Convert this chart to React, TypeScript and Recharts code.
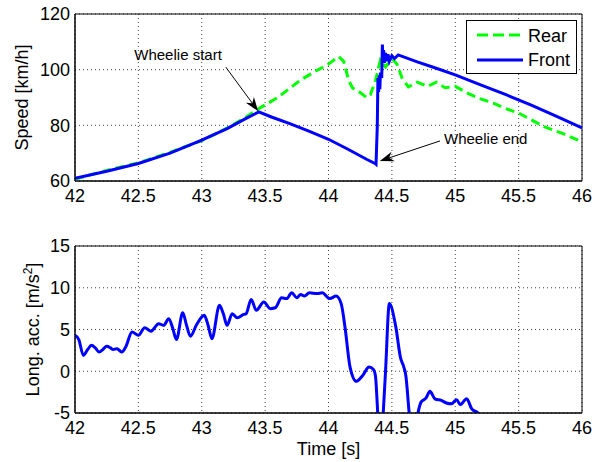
import React from 'react';
import { LineChart, Line, XAxis, YAxis, CartesianGrid, ReferenceLine, ReferenceArea, Label } from 'recharts';

const timeTicks = [42, 42.5, 43, 43.5, 44, 44.5, 45, 45.5, 46];
const speedTicks = [60, 80, 100, 120];
const accTicks = [-5, 0, 5, 10, 15];

// front wheel speed [km/h]
const frontTime = [
  42.0, 42.25, 42.5, 42.75, 43.0, 43.2, 43.35, 43.45, 43.55, 43.7, 43.85, 44.0, 44.15, 44.3, 44.37,
  44.375, 44.385, 44.39, 44.395, 44.4, 44.405, 44.41, 44.42, 44.425, 44.43, 44.435, 44.44, 44.45, 44.46,
  44.47, 44.48, 44.5, 44.52, 44.55, 44.7, 44.85, 45.0, 45.2, 45.4, 45.6, 45.8, 46.0,
];
const frontSpeed = [
  61.0, 63.5, 66.3, 70.0, 74.7, 78.8, 82.5, 84.8, 83.0, 80.5, 77.8, 75.0, 71.5, 67.8, 66.2,
  66.0, 80, 97, 92, 98, 93, 99, 97, 109, 103, 107, 102.5, 106, 103,
  105.5, 103, 105, 104, 105.3, 102.8, 100.5, 98.1, 94.5, 91.0, 87.3, 83.2, 79.1,
];

// rear wheel speed [km/h]
const rearTime = [
  42.0, 42.25, 42.5, 42.75, 43.0, 43.2, 43.35, 43.45, 43.6, 43.78, 43.9, 44.0, 44.08, 44.12, 44.16,
  44.19, 44.25, 44.3, 44.33, 44.37, 44.41, 44.45, 44.5, 44.54, 44.58, 44.63, 44.7, 44.78, 44.85,
  44.92, 45.0, 45.1, 45.2, 45.3, 45.4, 45.5, 45.6, 45.7, 45.85, 46.0,
];
const rearSpeed = [
  60.7, 63.8, 66.5, 70.3, 74.5, 79.0, 83.0, 86.0, 90.0, 96.3, 99.5, 102, 104.7, 103, 96,
  93.4, 91.8, 90.0, 91, 96, 103.5, 101, 104, 102, 97, 93.8, 95.5, 94.0, 95.5,
  93.5, 94.0, 91.5, 89.5, 88.0, 86, 84.4, 82, 79.5, 77, 74.1,
];

// longitudinal acceleration [m/s^2]
const accTime = [
  42.0, 42.03, 42.066, 42.1, 42.13, 42.16, 42.19, 42.22, 42.25, 42.28, 42.3, 42.33, 42.35, 42.37, 42.4,
  42.45, 42.5, 42.55, 42.6, 42.66, 42.7, 42.74, 42.77, 42.8, 42.85, 42.88, 42.91, 42.96, 43.02, 43.05,
  43.08, 43.14, 43.17, 43.2, 43.24, 43.28, 43.33, 43.35, 43.39, 43.43, 43.49, 43.54, 43.58, 43.63, 43.67,
  43.71, 43.75, 43.78, 43.81, 43.85, 43.91, 43.95, 44.01, 44.06, 44.1, 44.13, 44.17, 44.22, 44.27, 44.32,
  44.355, 44.37, 44.39, 44.41, 44.43, 44.45, 44.48, 44.53, 44.57, 44.59, 44.61, 44.64, 44.67, 44.7, 44.73,
  44.77, 44.8, 44.84, 44.89, 44.93, 44.97, 45.01, 45.04, 45.09, 45.13, 45.18, 45.22, 45.3,
];
const accValue = [
  4.3, 3.8, 1.9, 2.6, 3.1, 2.8, 2.3, 2.6, 3.0, 2.8, 2.6, 2.7, 2.5, 2.3, 2.9,
  4.7, 4.3, 5.2, 4.8, 5.7, 5.5, 6.3, 5.2, 3.8, 7.0, 5.5, 4.2, 5.6, 6.7, 5.5,
  3.9, 7.9, 6.9, 5.5, 6.9, 6.4, 6.8, 6.9, 8.6, 7.3, 8.3, 7.5, 7.6, 8.8, 8.7,
  9.4, 8.8, 9.2, 9.0, 9.4, 9.3, 9.4, 8.7, 9.0, 8.1, 5.3, 0.5, -1.2, -0.5, 0.5,
  0.2, -0.5, -5.5, -11, -5.5, 0, 8.1, 5.4, 1.5, 0.7, -0.5, -5.5, -8, -5.4, -3.7,
  -3.2, -2.4, -3.3, -3.5, -3.8, -3.9, -3.4, -4.0, -3.3, -4.5, -5.0, -5.8, -6.5,
];

const frontData = frontTime.map((t, i) => ({ t, front: frontSpeed[i] }));
const rearData = rearTime.map((t, i) => ({ t, rear: rearSpeed[i] }));
const accData = accTime.map((t, i) => ({ t, acc: accValue[i] }));

const FONT = '"Liberation Sans", Arial, Helvetica, sans-serif';
const BLUE = '#0000ff';
const GREEN = '#00ff00';
const tickStyle = { fill: '#000', fontSize: 18, fontFamily: FONT };

// arrow with a text at its tail
function makeArrow(text: string, side: 'left' | 'right') {
  return (props: any) => {
    const { x1, y1, x2, y2 } = props;
    const a = Math.atan2(y2 - y1, x2 - x1);
    const c = Math.cos(a);
    const s = Math.sin(a);
    const len = 14;
    const half = 5;
    const bx = x2 - len * c;
    const by = y2 - len * s;
    const nx = x2 - len * 0.7 * c;
    const ny = y2 - len * 0.7 * s;
    const pts = `${x2},${y2} ${bx - half * s},${by + half * c} ${nx},${ny} ${bx + half * s},${by - half * c}`;
    return (
      <g>
        <line x1={x1} y1={y1} x2={nx} y2={ny} stroke="#000" strokeWidth={1} />
        <polygon points={pts} fill="#000" />
        {side === 'left' ? (
          <text x={x1 - 4} y={y1 - 7} textAnchor="end" fontSize={15} fontFamily={FONT} fill="#000">{text}</text>
        ) : (
          <text x={x1 + 4} y={y1 + 3} textAnchor="start" fontSize={15} fontFamily={FONT} fill="#000">{text}</text>
        )}
      </g>
    );
  };
}

const SpeedTitle = (props: any) => {
  const vb = props.viewBox;
  const cx = vb.x + 13;
  const cy = vb.y + vb.height / 2;
  return (
    <text x={cx} y={cy} transform={`rotate(-90 ${cx} ${cy})`} textAnchor="middle" fontSize={18} fontFamily={FONT} fill="#000">
      Speed [km/h]
    </text>
  );
};

const AccTitle = (props: any) => {
  const vb = props.viewBox;
  const cx = vb.x + 24;
  const cy = vb.y + vb.height / 2;
  return (
    <text x={cx} y={cy} transform={`rotate(-90 ${cx} ${cy})`} textAnchor="middle" fontSize={18} fontFamily={FONT} fill="#000">
      <tspan>Long. acc. [m/s</tspan>
      <tspan dy={-7} fontSize={12}>2</tspan>
      <tspan dy={7}>]</tspan>
    </text>
  );
};

export default function App() {
  return (
    <div style={{ position: 'absolute', left: 0, top: 0, width: 596, height: 462, background: '#fff', fontFamily: FONT }}>
      {/* speed subplot */}
      <div style={{ position: 'absolute', left: 0, top: 0 }}>
        <LineChart width={596} height={215} margin={{ top: 14, right: 14, left: 15, bottom: 4 }}>
          <CartesianGrid stroke="#444" strokeDasharray="1 3" />
          <XAxis
            dataKey="t"
            type="number"
            domain={[42, 46]}
            ticks={timeTicks}
            allowDataOverflow
            height={30}
            tickLine={false}
            tickSize={5}
            tickMargin={3}
            stroke="#000"
            tick={tickStyle}
          />
          <YAxis
            type="number"
            domain={[60, 120]}
            ticks={speedTicks}
            allowDataOverflow
            width={60}
            tickLine={false}
            tickSize={5}
            tickMargin={0}
            stroke="#000"
            tick={tickStyle}
          >
            <Label content={SpeedTitle} />
          </YAxis>
          <Line data={rearData} dataKey="rear" type="linear" stroke={GREEN} strokeWidth={3} strokeDasharray="9 5" dot={false} isAnimationActive={false} />
          <Line data={frontData} dataKey="front" type="linear" stroke={BLUE} strokeWidth={3} dot={false} isAnimationActive={false} />
          <ReferenceArea x1={42} x2={46} y1={60} y2={120} fill="none" stroke="#000" strokeWidth={1} fillOpacity={0} />
          <ReferenceLine segment={[{ x: 43.19, y: 100.9 }, { x: 43.445, y: 85.1 }]} shape={makeArrow('Wheelie start', 'left')} />
          <ReferenceLine segment={[{ x: 44.88, y: 74.4 }, { x: 44.405, y: 67.2 }]} shape={makeArrow('Wheelie end', 'right')} />
        </LineChart>
      </div>

      {/* legend */}
      <svg width={111} height={54} style={{ position: 'absolute', left: 466, top: 20 }}>
        <rect x={0.5} y={0.5} width={110} height={53} fill="#fff" stroke="#000" strokeWidth={1} />
        <line x1={11} y1={15} x2={57} y2={15} stroke={GREEN} strokeWidth={3} strokeDasharray="11 5" />
        <text x={62} y={22} fontSize={18} fontFamily={FONT} fill="#000">Rear</text>
        <line x1={11} y1={40} x2={57} y2={40} stroke={BLUE} strokeWidth={3} />
        <text x={62} y={46} fontSize={18} fontFamily={FONT} fill="#000">Front</text>
      </svg>

      {/* acceleration subplot */}
      <div style={{ position: 'absolute', left: 0, top: 232 }}>
        <LineChart width={596} height={230} margin={{ top: 14, right: 14, left: 15, bottom: 4 }}>
          <CartesianGrid stroke="#444" strokeDasharray="1 3" />
          <XAxis
            dataKey="t"
            type="number"
            domain={[42, 46]}
            ticks={timeTicks}
            allowDataOverflow
            height={45}
            tickLine={false}
            tickSize={5}
            tickMargin={3}
            stroke="#000"
            tick={tickStyle}
          >
            <Label value="Time [s]" position="insideBottom" offset={3} style={{ fontSize: 18, fontFamily: FONT, fill: '#000' }} />
          </XAxis>
          <YAxis
            type="number"
            domain={[-5, 15]}
            ticks={accTicks}
            allowDataOverflow
            width={60}
            tickLine={false}
            tickSize={5}
            tickMargin={0}
            stroke="#000"
            tick={tickStyle}
          >
            <Label content={AccTitle} />
          </YAxis>
          <Line data={accData} dataKey="acc" type="monotone" stroke={BLUE} strokeWidth={3} dot={false} isAnimationActive={false} />
          <ReferenceArea x1={42} x2={46} y1={-5} y2={15} fill="none" stroke="#000" strokeWidth={1} fillOpacity={0} />
        </LineChart>
      </div>
    </div>
  );
}
